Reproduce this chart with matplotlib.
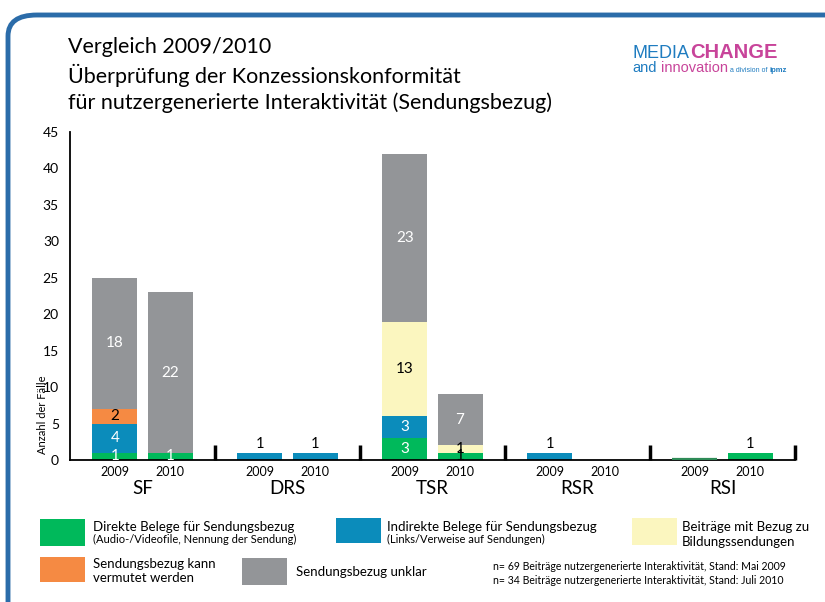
import matplotlib
matplotlib.use("Agg")
import matplotlib.pyplot as plt
from matplotlib.patches import FancyBboxPatch, Rectangle
import numpy as np

plt.rcParams['font.family'] = ['Lato', 'DejaVu Sans']

groups = ["SF", "DRS", "TSR", "RSR", "RSI"]
years = ["2009", "2010"]
series_names = [
    "Direkte Belege für Sendungsbezug",
    "Indirekte Belege für Sendungsbezug",
    "Beiträge mit Bezug zu Bildungssendungen",
    "Sendungsbezug kann vermutet werden",
    "Sendungsbezug unklar",
]
# values per group: [2009, 2010]
direkt   = [[1, 1], [0, 0], [3, 1], [0, 0], [0, 1]]
indirekt = [[4, 0], [1, 1], [3, 0], [1, 0], [0, 0]]
bildung  = [[0, 0], [0, 0], [13, 1], [0, 0], [0, 0]]
vermutet = [[2, 0], [0, 0], [0, 0], [0, 0], [0, 0]]
unklar   = [[18, 22], [0, 0], [23, 7], [0, 0], [0, 0]]
series = [direkt, indirekt, bildung, vermutet, unklar]

colors = ["#00B95B", "#0B8CBB", "#FBF6BF", "#F58A43", "#939598"]
label_colors = ["white", "white", "black", "black", "white"]

fig = plt.figure(figsize=(8.25, 6.02), dpi=100)

# border
border = FancyBboxPatch((8/825, -0.1), 1.2, 1 - 15/602 + 0.1,
                        boxstyle="round,pad=0,rounding_size=0.035",
                        transform=fig.transFigure, fill=False,
                        edgecolor="#2B6CA9", linewidth=3.5, clip_on=False)
fig.patches.append(border)

ax = fig.add_axes([70/825, 1 - 460/602, 725/825, 328/602])
ax.set_xlim(-0.5, 4.5)
ax.set_ylim(0, 45)

offsets = [-0.19, 0.19]
width = 0.31

for gi, g in enumerate(groups):
    for yi in range(2):
        x = gi + offsets[yi]
        bottom = 0
        total = sum(s[gi][yi] for s in series)
        nseg = sum(1 for s in series if s[gi][yi] > 0)
        for si, s in enumerate(series):
            v = s[gi][yi]
            if v <= 0:
                continue
            ax.bar(x, v, width, bottom=bottom, color=colors[si], linewidth=0)
            if nseg == 1 and v == 1:
                ax.text(x, bottom + v + 0.2, str(v), ha="center", va="bottom",
                        fontsize=10.5, color="black")
            else:
                lc = label_colors[si]
                if g == "TSR" and yi == 1 and v == 1:
                    lc = "black"
                ax.text(x, bottom + v / 2, str(v), ha="center", va="center",
                        fontsize=11, color=lc)
            bottom += v
        if total == 0 and g == "RSI":
            ax.hlines(0.08, x - width / 2, x + width / 2, colors="#2E8B57",
                      linewidth=1.6, zorder=3)

# separators
ax.vlines(np.arange(len(groups)) + 0.5, 0, 2, colors="black", linewidth=2.5, clip_on=False)

for sp in ["top", "right"]:
    ax.spines[sp].set_visible(False)
ax.spines["left"].set_linewidth(1.3)
ax.spines["bottom"].set_linewidth(1.3)
ax.set_yticks(np.arange(0, 46, 5))
ax.tick_params(axis="y", length=0, labelsize=10, pad=8)
ax.set_xticks([gi + o for gi in range(len(groups)) for o in offsets])
ax.set_xticklabels([y for _ in groups for y in years], fontsize=9)
ax.tick_params(axis="x", length=0, pad=4)
for gi, g in enumerate(groups):
    ax.text(gi, -3.9, g, ha="center", va="center", fontsize=13.5,
            transform=ax.transData)

fig.text(43/825, 1 - 415/602, "Anzahl der Fälle", rotation=90, ha="center",
         va="center", fontsize=8)

# title
for i, line in enumerate(["Vergleich 2009/2010",
                          "Überprüfung der Konzessionskonformität",
                          "für nutzergenerierte Interaktivität (Sendungsbezug)"]):
    fig.text(68/825, 1 - (47 + 28 * i) / 602, line, fontsize=15.5, ha="left",
             va="center", color="black")

# logo
renderer = fig.canvas.get_renderer()
def chain(x_px, y_px, parts):
    x = x_px
    for txt, size, col, wt, gap in parts:
        t = fig.text(x / 825, 1 - y_px / 602, txt, fontsize=size, color=col,
                     fontweight=wt, ha="left", va="baseline",
                     family=["Liberation Sans", "DejaVu Sans"])
        bb = t.get_window_extent(renderer=renderer)
        x += bb.width + gap

chain(632, 58, [("MEDIA", 13, "#1F7CC0", "normal", 1),
                ("CHANGE", 14.5, "#C8449A", "bold", 0)])
chain(632, 72, [("and", 10.5, "#1F7CC0", "normal", 4),
                ("innovation", 10.5, "#C8449A", "normal", 3),
                ("a division of", 5, "#1F7CC0", "normal", 2),
                ("ipmz", 5.5, "#1F7CC0", "bold", 0)])

# legend
def box(x0, y0, x1, y1, c):
    fig.patches.append(Rectangle((x0/825, 1 - y1/602), (x1 - x0)/825, (y1 - y0)/602,
                                 transform=fig.transFigure, color=c, linewidth=0))

box(40, 519, 85, 546, colors[0])
fig.text(93/825, 1 - 527/602, "Direkte Belege für Sendungsbezug", fontsize=9.5, va="center")
fig.text(93/825, 1 - 539/602, "(Audio-/Videofile, Nennung der Sendung)", fontsize=8, va="center")
box(336, 518, 381, 543, colors[1])
fig.text(387/825, 1 - 527/602, "Indirekte Belege für Sendungsbezug", fontsize=9.5, va="center")
fig.text(387/825, 1 - 539/602, "(Links/Verweise auf Sendungen)", fontsize=8, va="center")
box(632, 518, 677, 545, colors[2])
fig.text(682/825, 1 - 527/602, "Beiträge mit Bezug zu", fontsize=9.5, va="center")
fig.text(682/825, 1 - 542/602, "Bildungssendungen", fontsize=9.5, va="center")
box(40, 557, 85, 582, colors[3])
fig.text(93/825, 1 - 564/602, "Sendungsbezug kann", fontsize=9.5, va="center")
fig.text(93/825, 1 - 578/602, "vermutet werden", fontsize=9.5, va="center")
box(242, 558, 287, 585, colors[4])
fig.text(296/825, 1 - 572/602, "Sendungsbezug unklar", fontsize=9.5, va="center")

fig.text(493/825, 1 - 566/602, "n= 69 Beiträge nutzergenerierte Interaktivität, Stand: Mai 2009",
         fontsize=7.6, va="center")
fig.text(493/825, 1 - 581/602, "n= 34 Beiträge nutzergenerierte Interaktivität, Stand: Juli 2010",
         fontsize=7.6, va="center")

fig.savefig("out.png", dpi=100)
